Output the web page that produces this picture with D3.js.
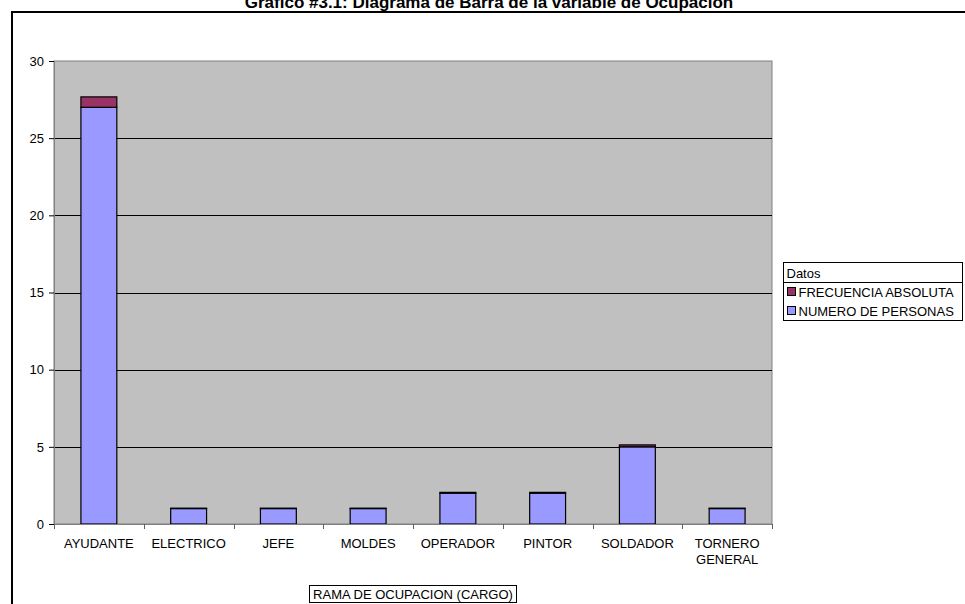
<!DOCTYPE html>
<html>
<head>
<meta charset="utf-8">
<script src="https://cdn.jsdelivr.net/npm/d3@7"></script>
<style>
  body { margin: 0; background: #fff; }
  svg text { font-family: "Liberation Sans", Arial, sans-serif; }
</style>
</head>
<body>
<div id="chart"></div>
<script>
// data
const cargos = ["AYUDANTE", "ELECTRICO", "JEFE", "MOLDES", "OPERADOR", "PINTOR", "SOLDADOR", "TORNERO GENERAL"];
const numeroPersonas = [27, 1, 1, 1, 2, 2, 5, 1];
const frecuencia = [0.675, 0.025, 0.025, 0.025, 0.05, 0.05, 0.125, 0.025];
const yTicks = [0, 5, 10, 15, 20, 25, 30];
const seriesNames = ["FRECUENCIA ABSOLUTA", "NUMERO DE PERSONAS"];
const colors = { "NUMERO DE PERSONAS": "#9999ff", "FRECUENCIA ABSOLUTA": "#993366" };

const W = 965, H = 604;
const plot = { left: 54, top: 61, right: 772, bottom: 524 };

const svg = d3.select("#chart").append("svg")
    .attr("width", W)
    .attr("height", H);

// outer chart frame (runs past the window on the right and bottom)
svg.append("rect")
    .attr("x", 12).attr("y", 12)
    .attr("width", 1000).attr("height", 700)
    .attr("fill", "#fff")
    .attr("stroke", "#000")
    .attr("stroke-width", 2);

// title, mostly cut off at the top
svg.append("text")
    .attr("x", 489)
    .attr("y", 8)
    .attr("text-anchor", "middle")
    .style("font-weight", "bold")
    .style("font-size", "17px")
    .text("Grafico #3.1: Diagrama de Barra de la variable de Ocupacion");

const x = d3.scaleBand()
    .domain(cargos)
    .range([plot.left, plot.right])
    .paddingInner(0.6)
    .paddingOuter(0.3);

const y = d3.scaleLinear()
    .domain([0, 30])
    .range([plot.bottom, plot.top]);

// plot area
svg.append("rect")
    .attr("x", plot.left).attr("y", plot.top)
    .attr("width", plot.right - plot.left)
    .attr("height", plot.bottom - plot.top)
    .attr("fill", "#c0c0c0")
    .attr("stroke", "#808080")
    .attr("stroke-width", 1);

// gridlines
svg.append("g")
    .selectAll("line")
    .data(yTicks.filter(d => d > 0 && d < 30))
    .enter().append("line")
    .attr("x1", plot.left).attr("x2", plot.right)
    .attr("y1", d => Math.round(y(d)) + 0.5)
    .attr("y2", d => Math.round(y(d)) + 0.5)
    .attr("stroke", "#000");

// stacked bars
const stack = cargos.map((c, i) => ({ cargo: c, n: numeroPersonas[i], f: frecuencia[i] }));

svg.append("g").selectAll("rect")
    .data(stack)
    .enter().append("rect")
    .attr("x", d => x(d.cargo))
    .attr("y", d => y(d.n))
    .attr("width", x.bandwidth())
    .attr("height", d => y(0) - y(d.n))
    .attr("fill", colors["NUMERO DE PERSONAS"])
    .attr("stroke", "#000")
    .attr("stroke-width", 1.2);

svg.append("g").selectAll("rect")
    .data(stack)
    .enter().append("rect")
    .attr("x", d => x(d.cargo))
    .attr("y", d => y(d.n + d.f))
    .attr("width", x.bandwidth())
    .attr("height", d => y(d.n) - y(d.n + d.f))
    .attr("fill", colors["FRECUENCIA ABSOLUTA"])
    .attr("stroke", "#000")
    .attr("stroke-width", 1.2);

// y axis
const yAxis = d3.axisLeft(y).tickValues(yTicks).tickSize(5).tickPadding(5);
const gy = svg.append("g")
    .attr("transform", "translate(" + plot.left + ",0)")
    .call(yAxis);
gy.select(".domain").attr("stroke", "#808080");
gy.selectAll(".tick line").attr("stroke", "#000");
gy.selectAll("text").style("font-size", "13px").attr("fill", "#000");

// x axis, ticks between categories
const step = x.step();
const gx = svg.append("g")
    .attr("transform", "translate(0," + plot.bottom + ")");
gx.append("line")
    .attr("x1", plot.left).attr("x2", plot.right)
    .attr("y1", 0.5).attr("y2", 0.5)
    .attr("stroke", "#808080");
gx.selectAll(".sep")
    .data(d3.range(cargos.length + 1))
    .enter().append("line")
    .attr("class", "sep")
    .attr("x1", i => Math.round(plot.left + i * step) + 0.5)
    .attr("x2", i => Math.round(plot.left + i * step) + 0.5)
    .attr("y1", 0).attr("y2", 5)
    .attr("stroke", "#606060");

gx.selectAll(".lbl")
    .data(cargos)
    .enter().append("text")
    .attr("class", "lbl")
    .attr("x", d => x(d) + x.bandwidth() / 2)
    .attr("y", 24)
    .attr("text-anchor", "middle")
    .style("font-size", "13px")
    .each(function(d) {
        const words = d.split(" ");
        const t = d3.select(this);
        words.forEach((w, k) => {
            t.append("tspan")
                .attr("x", x(d) + x.bandwidth() / 2)
                .attr("dy", k === 0 ? 0 : 16)
                .text(w);
        });
    });

// x axis title in a box
svg.append("rect")
    .attr("x", 309.5).attr("y", 585.5)
    .attr("width", 207).attr("height", 17)
    .attr("fill", "#fff")
    .attr("stroke", "#000");
svg.append("text")
    .attr("x", 413)
    .attr("y", 599)
    .attr("text-anchor", "middle")
    .style("font-size", "13px")
    .text("RAMA DE OCUPACION (CARGO)");

// legend
const lg = svg.append("g").attr("transform", "translate(783.5,262.5)");
lg.append("rect")
    .attr("width", 179).attr("height", 20)
    .attr("fill", "#fff").attr("stroke", "#000");
lg.append("text")
    .attr("x", 3).attr("y", 15)
    .style("font-size", "13px")
    .text("Datos");
lg.append("rect")
    .attr("y", 20)
    .attr("width", 179).attr("height", 38)
    .attr("fill", "#fff").attr("stroke", "#000");
const items = lg.selectAll(".item")
    .data(seriesNames)
    .enter().append("g")
    .attr("class", "item")
    .attr("transform", (d, i) => "translate(4," + (25 + i * 19) + ")");
items.append("rect")
    .attr("width", 8).attr("height", 8)
    .attr("fill", d => colors[d])
    .attr("stroke", "#000");
items.append("text")
    .attr("x", 11).attr("y", 9)
    .style("font-size", "13px")
    .text(d => d);
</script>
</body>
</html>
